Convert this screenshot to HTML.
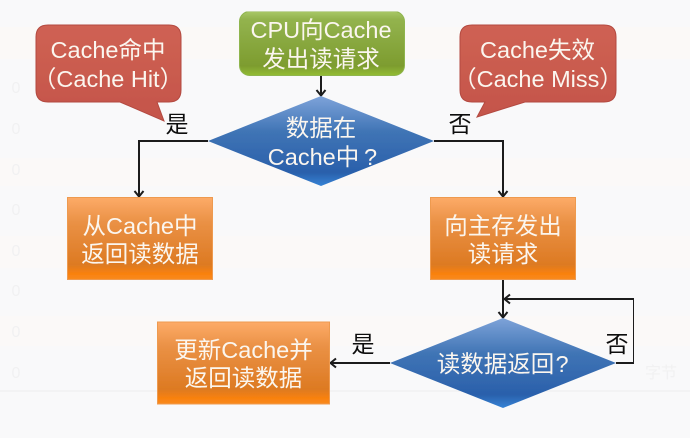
<!DOCTYPE html>
<html><head><meta charset="utf-8"><style>
html,body{margin:0;padding:0;background:#f9f9fa}
svg{display:block}
text{font-family:"Liberation Sans","Noto Sans CJK SC",sans-serif;text-anchor:middle}
.w{fill:#fbf6ef;font-size:23.5px}
.k{fill:#111;font-size:23px}
.g{fill:#f1f1f2;font-size:16px}
</style></head><body>
<svg width="690" height="438" viewBox="0 0 690 438" xmlns="http://www.w3.org/2000/svg">
<defs>
<linearGradient id="gr" x1="0" y1="0" x2="0" y2="1"><stop offset="0" stop-color="#a9c867"/><stop offset=".12" stop-color="#93b34e"/><stop offset=".85" stop-color="#7d9c2f"/><stop offset="1" stop-color="#93bc32"/></linearGradient>
<linearGradient id="re" x1="0" y1="0" x2="0" y2="1"><stop offset="0" stop-color="#cf6253"/><stop offset="1" stop-color="#c4544a"/></linearGradient>
<linearGradient id="or" x1="0" y1="0" x2="0" y2="1"><stop offset="0" stop-color="#fdab68"/><stop offset=".3" stop-color="#ea9145"/><stop offset=".82" stop-color="#dd7a22"/><stop offset=".93" stop-color="#f9810e"/><stop offset="1" stop-color="#f98a1e"/></linearGradient>
<linearGradient id="bl" x1="0" y1="0" x2="0" y2="1"><stop offset="0" stop-color="#7ea3d9"/><stop offset=".4" stop-color="#3f74b5"/><stop offset=".85" stop-color="#2a60ab"/><stop offset="1" stop-color="#3583d6"/></linearGradient>
<filter id="soft" x="0" y="0" width="100%" height="100%"><feGaussianBlur stdDeviation="0.35"/></filter>
</defs>
<rect width="690" height="438" fill="#f9f9fa"/>
<rect x="0" y="27" width="690" height="32" fill="#fbf9f7"/>
<rect x="0" y="158" width="690" height="28" fill="#fbf9f8"/>
<rect x="0" y="236" width="690" height="32" fill="#fbf9f8"/>
<rect x="0" y="316" width="690" height="30" fill="#fbf9f8"/>
<rect x="0" y="390" width="690" height="2" fill="#f3f3f4"/>
<g>
<text class="g" x="16" y="93">0</text><text class="g" x="16" y="134">0</text><text class="g" x="16" y="175">0</text><text class="g" x="16" y="215">0</text><text class="g" x="16" y="256">0</text><text class="g" x="16" y="296">0</text><text class="g" x="16" y="337">0</text><text class="g" x="16" y="378">0</text><text class="g" x="661" y="378">字节</text>
</g>

<g filter="url(#soft)">
<g stroke="#1c1c1c" stroke-width="2" fill="none">
<path d="M321 75V95"/>
<path d="M208 141H139V196"/>
<path d="M434 141H503V196"/>
<path d="M503 280V317"/>
<path d="M616 363H634V299H505"/>
<path d="M390 363H330"/>
<path d="M316.500 90L321 95.500L325.500 90M134.500 191L139 196.500L143.500 191M498.500 191L503 196.500L507.500 191M498.500 312L503 317.500L507.500 312M510 294.500L504.500 299L510 303.500M336 358.500L330.500 363L336 367.500"/>
</g>

<rect x="239.500" y="11.500" width="165" height="64" rx="10" fill="url(#gr)" stroke="#8fb54e"/>
<path d="M48 25H169Q181 25 181 37V90Q181 102 169 102H157L164 121L120 102H48Q36 102 36 90V37Q36 25 48 25Z" fill="url(#re)" stroke="#b34a41"/>
<path d="M472 25H604Q616 25 616 37V90Q616 102 604 102H525L477 117L485 102H472Q460 102 460 90V37Q460 25 472 25Z" fill="url(#re)" stroke="#b34a41"/>
<path d="M321 96L434 141L321 186L208 141Z" fill="url(#bl)"/>
<path d="M503 318L616 363L503 408L390 363Z" fill="url(#bl)"/>
<rect x="67.500" y="197.500" width="145" height="82" fill="url(#or)" stroke="#ee9a50"/>
<rect x="430.500" y="197.500" width="145" height="82" fill="url(#or)" stroke="#ee9a50"/>
<rect x="157.500" y="322" width="172" height="82" fill="url(#or)" stroke="#ee9a50"/>

<text class="w" x="321" y="38">CPU向Cache</text>
<text class="w" x="321" y="67">发出读请求</text>
<text class="w" x="108" y="58">Cache命中</text>
<text class="w" x="108" y="87">（Cache Hit）</text>
<text class="w" x="537.500" y="58">Cache失效</text>
<text class="w" x="538" y="87">（Cache Miss）</text>
<text class="w" x="321" y="136">数据在</text>
<text class="w" x="313.500" y="165">Cache中</text>
<text class="w" x="370.500" y="165">?</text>
<text class="w" x="140" y="234">从Cache中</text>
<text class="w" x="140" y="262">返回读数据</text>
<text class="w" x="503" y="234">向主存发出</text>
<text class="w" x="503" y="262">读请求</text>
<text class="w" x="243.500" y="358">更新Cache并</text>
<text class="w" x="243.500" y="386">返回读数据</text>
<text class="w" x="495.500" y="372">读数据返回</text>
<text class="w" x="562" y="372">?</text>
<text class="k" x="177" y="132">是</text>
<text class="k" x="460" y="132">否</text>
<text class="k" x="363" y="352">是</text>
<text class="k" x="617" y="352">否</text>
</g>
</svg>
</body></html>
